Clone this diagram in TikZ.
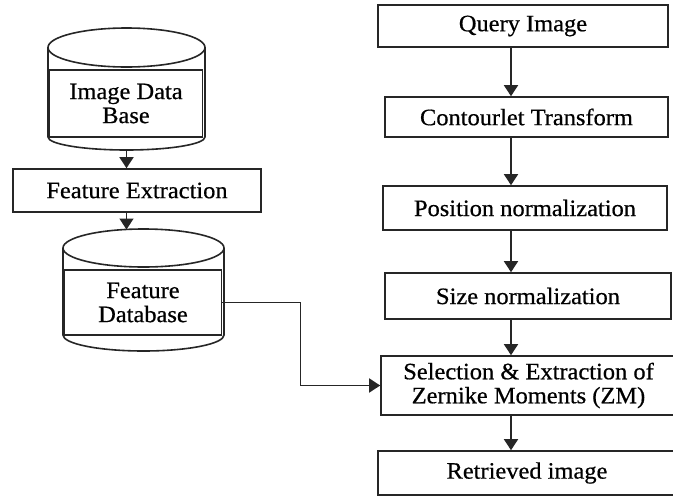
\documentclass[tikz,border=0pt]{standalone}
\usepackage{fontspec}
\setmainfont{Liberation Serif}[FakeStretch=1.04, FakeBold=0.6]
\usetikzlibrary{arrows.meta}
\definecolor{ink}{HTML}{262626}
\begin{document}
\begin{tikzpicture}[x=1pt,y=-1pt,
  line width=1.6pt, draw=ink,
  txt/.style={font=\fontsize{23.5}{24}\selectfont, align=center, text=black},
  proc/.style={txt, draw=ink, rectangle, inner sep=0pt},
  link/.style={draw=ink, -{Triangle[width=14pt,length=11pt]}},
]
\useasboundingbox (0,0) rectangle (673,496);
\clip (0,0) rectangle (673,496);

% ---- left column: image database cylinder ----
\draw[ink, fill=white] (48,47.5) -- (48,137)
  arc[start angle=180, end angle=0, x radius=78.5, y radius=13] -- (205,47.5);
\draw[ink, fill=white] (126.5,47.5) ellipse[x radius=78.5, y radius=19.5];
\node[proc, minimum width=153pt, minimum height=67pt] (idb) at (126,103.5) {Image Data\\Base};
\coordinate (c1bot) at (126.5,150);

\node[proc, minimum width=248pt, minimum height=43pt] (fe) at (137,190.5) {Feature Extraction};

% ---- left column: feature database cylinder ----
\draw[ink, fill=white] (63,248) -- (63,335)
  arc[start angle=180, end angle=0, x radius=80.5, y radius=16] -- (224,248);
\draw[ink, fill=white] (143.5,248) ellipse[x radius=80.5, y radius=19];
\node[proc, minimum width=157pt, minimum height=65pt] (fdb) at (143,302.5) {Feature\\Database};
\coordinate (c2top) at (126.5,229.5);

% ---- right column: query pipeline ----
\node[proc, minimum width=290pt, minimum height=42pt] (q)   at (523,26)    {Query Image};
\node[proc, minimum width=283pt, minimum height=40pt] (ct)  at (526.5,117) {Contourlet Transform};
\node[proc, minimum width=284pt, minimum height=44pt] (pn)  at (525,208)   {Position normalization};
\node[proc, minimum width=286pt, minimum height=46pt] (sn)  at (528,296)   {Size normalization};
\node[proc, minimum width=295pt, minimum height=59pt] (sel) at (528.5,385.5) {Selection \& Extraction of\\Zernike Moments (ZM)};
\node[proc, minimum width=298pt, minimum height=44pt] (ret) at (527,473)   {Retrieved image};
\coordinate (rx) at (511,0);

% ---- connectors ----
\draw[link] (c1bot) -- (fe.north -| c1bot);
\draw[link] (fe.south -| c1bot) -- (c2top);
\draw[link] (q.south -| rx)  -- (ct.north -| rx);
\draw[link] (ct.south -| rx) -- (pn.north -| rx);
\draw[link] (pn.south -| rx) -- (sn.north -| rx);
\draw[link] (sn.south -| rx) -- (sel.north -| rx);
\draw[link] (sel.south -| rx) -- (ret.north -| rx);
\draw[link] (fdb.east) -- ++(78,0) |- (sel.west);
\end{tikzpicture}
\end{document}
